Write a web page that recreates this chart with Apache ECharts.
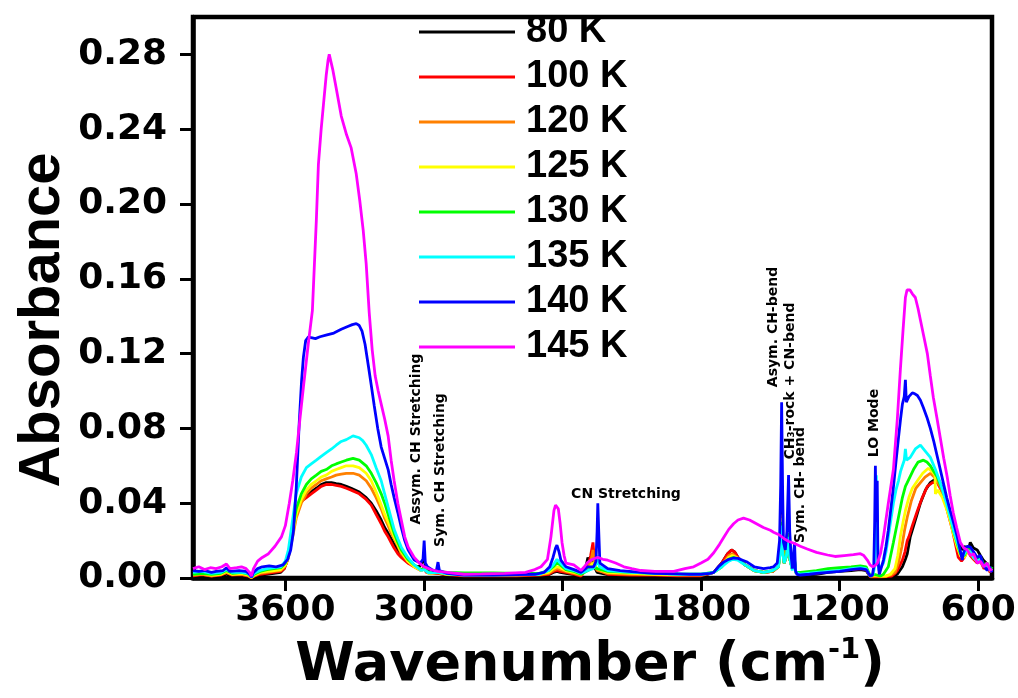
<!DOCTYPE html>
<html>
<head>
<meta charset="utf-8">
<script src="https://cdn.jsdelivr.net/npm/echarts@6/dist/echarts.min.js"></script>
<style>html,body{margin:0;padding:0;background:#fff}#c{width:1018px;height:698px}</style>
</head>
<body>
<div id="c"></div>
<script>
const temps = ['80 K','100 K','120 K','125 K','130 K','135 K','140 K','145 K'];
const colors = ['#000000','#ff0000','#ff8000','#ffff00','#00ff00','#00ffff','#0000ff','#ff00ff'];
const xTicks = [600,1200,1800,2400,3000,3600];
const yTicks = [0,0.04,0.08,0.12,0.16,0.20,0.24,0.28];

const k80 = [[4000,0.0008],[3960,0.0012],[3920,0.0006],[3880,0.001],[3855,0.002],[3830,0.001],[3790,0.0012],[3760,0.0006],[3747,0.0001],[3735,0.0008],[3710,0.0015],[3680,0.002],[3650,0.0025],[3620,0.003],[3605,0.005],[3590,0.010],[3577,0.018],[3565,0.028],[3553,0.035],[3540,0.0395],[3531,0.041],[3509,0.044],[3488,0.046],[3466,0.048],[3445,0.050],[3423,0.051],[3400,0.051],[3380,0.0505],[3358,0.050],[3336,0.049],[3315,0.048],[3280,0.046],[3250,0.043],[3228,0.040],[3207,0.036],[3185,0.031],[3170,0.027],[3155,0.024],[3142,0.021],[3129,0.018],[3113,0.015],[3098,0.012],[3070,0.009],[3042,0.0065],[3020,0.006],[3005,0.009],[2999,0.011],[2993,0.005],[2970,0.003],[2939,0.0025],[2900,0.0015],[2826,0.001],[2700,0.001],[2600,0.001],[2500,0.0012],[2460,0.0018],[2440,0.003],[2424,0.0035],[2410,0.003],[2385,0.0025],[2350,0.0018],[2320,0.001],[2300,0.005],[2290,0.011],[2282,0.008],[2268,0.012],[2262,0.006],[2250,0.003],[2204,0.0018],[2100,0.0012],[2000,0.0012],[1900,0.001],[1800,0.001],[1745,0.003],[1710,0.008],[1685,0.013],[1668,0.015],[1655,0.014],[1640,0.011],[1610,0.007],[1570,0.004],[1529,0.003],[1490,0.0035],[1465,0.006],[1455,0.020],[1451,0.040],[1447,0.018],[1440,0.008],[1430,0.012],[1421,0.022],[1415,0.010],[1405,0.005],[1395,0.008],[1390,0.003],[1370,0.0015],[1300,0.002],[1250,0.003],[1200,0.0035],[1150,0.004],[1110,0.0045],[1085,0.004],[1067,0.0005],[1050,0.0006],[1023,0.0005],[1000,0.0006],[970,0.001],[950,0.002],[928,0.006],[915,0.010],[907,0.013],[894,0.022],[872,0.031],[850,0.040],[828,0.047],[807,0.051],[790,0.0525],[773,0.053],[755,0.048],[734,0.040],[720,0.033],[708,0.026],[690,0.020],[669,0.015],[655,0.017],[645,0.014],[634,0.019],[620,0.016],[604,0.015],[590,0.012],[578,0.0096],[565,0.008],[548,0.004],[540,0.006]];

const k100 = [[4000,0.0012],[3960,0.0018],[3920,0.001],[3880,0.0015],[3855,0.0028],[3830,0.0015],[3790,0.0018],[3760,0.001],[3747,0.0002],[3735,0.001],[3710,0.002],[3680,0.0025],[3650,0.003],[3620,0.0035],[3605,0.005],[3590,0.010],[3577,0.018],[3565,0.028],[3553,0.035],[3540,0.039],[3531,0.041],[3509,0.043],[3488,0.045],[3466,0.047],[3445,0.049],[3423,0.050],[3400,0.050],[3380,0.0495],[3358,0.049],[3336,0.048],[3315,0.047],[3280,0.045],[3250,0.042],[3228,0.039],[3207,0.034],[3185,0.029],[3170,0.025],[3155,0.022],[3142,0.019],[3129,0.016],[3113,0.013],[3098,0.011],[3070,0.008],[3042,0.006],[3012,0.004],[2999,0.006],[2990,0.003],[2939,0.0025],[2900,0.0018],[2826,0.0012],[2700,0.0012],[2600,0.0012],[2500,0.0015],[2460,0.002],[2440,0.0035],[2424,0.004],[2410,0.0035],[2385,0.003],[2350,0.002],[2320,0.001],[2290,0.006],[2278,0.012],[2268,0.019],[2262,0.010],[2255,0.005],[2250,0.004],[2204,0.002],[2100,0.0015],[2000,0.0015],[1900,0.0012],[1800,0.0012],[1745,0.003],[1710,0.008],[1685,0.013],[1668,0.015],[1655,0.014],[1640,0.011],[1610,0.007],[1570,0.004],[1529,0.003],[1490,0.0035],[1465,0.006],[1455,0.018],[1451,0.034],[1447,0.017],[1440,0.008],[1430,0.012],[1421,0.022],[1415,0.010],[1405,0.005],[1395,0.008],[1390,0.003],[1370,0.0018],[1300,0.0025],[1250,0.0035],[1200,0.004],[1150,0.0045],[1110,0.005],[1085,0.0045],[1067,0.0006],[1050,0.0008],[1023,0.0006],[1000,0.0008],[975,0.001],[960,0.0025],[950,0.004],[938,0.007],[928,0.0096],[917,0.014],[907,0.020],[900,0.022],[885,0.028],[863,0.036],[842,0.043],[820,0.049],[798,0.051],[777,0.051],[760,0.047],[742,0.040],[727,0.033],[712,0.026],[698,0.018],[686,0.011],[672,0.009],[660,0.011],[645,0.015],[634,0.012],[620,0.010],[604,0.008],[590,0.009],[575,0.005],[561,0.006],[548,0.003],[540,0.005]];

const k120 = [[4000,0.0015],[3960,0.002],[3920,0.0012],[3880,0.0018],[3855,0.003],[3830,0.0018],[3790,0.002],[3760,0.0012],[3747,0.0002],[3735,0.0012],[3710,0.0025],[3680,0.003],[3650,0.0035],[3620,0.004],[3600,0.0065],[3587,0.011],[3570,0.021],[3553,0.032],[3531,0.040],[3509,0.045],[3488,0.048],[3466,0.050],[3445,0.052],[3423,0.053],[3400,0.054],[3380,0.055],[3358,0.0555],[3336,0.056],[3307,0.056],[3280,0.055],[3250,0.052],[3228,0.048],[3207,0.043],[3185,0.037],[3170,0.032],[3155,0.028],[3142,0.024],[3129,0.021],[3113,0.017],[3098,0.013],[3070,0.009],[3042,0.006],[3012,0.004],[2999,0.005],[2980,0.0025],[2939,0.0028],[2900,0.002],[2826,0.0015],[2700,0.0015],[2600,0.0015],[2500,0.0018],[2460,0.0025],[2440,0.004],[2424,0.005],[2410,0.0045],[2385,0.0035],[2350,0.0025],[2320,0.0015],[2290,0.005],[2275,0.010],[2268,0.015],[2262,0.008],[2250,0.004],[2204,0.0025],[2100,0.002],[2000,0.0018],[1900,0.0015],[1800,0.0015],[1745,0.003],[1710,0.007],[1680,0.012],[1665,0.013],[1640,0.0105],[1610,0.007],[1570,0.004],[1529,0.003],[1490,0.0035],[1465,0.006],[1455,0.018],[1451,0.034],[1447,0.017],[1440,0.008],[1430,0.012],[1421,0.024],[1415,0.010],[1405,0.005],[1395,0.009],[1390,0.003],[1370,0.002],[1300,0.003],[1250,0.004],[1200,0.0045],[1150,0.005],[1110,0.0055],[1085,0.005],[1067,0.0008],[1050,0.001],[1023,0.0008],[1000,0.001],[980,0.0015],[960,0.003],[945,0.008],[930,0.017],[918,0.026],[907,0.0325],[890,0.041],[870,0.048],[850,0.051],[830,0.054],[807,0.056],[790,0.054],[764,0.049],[742,0.041],[721,0.033],[705,0.025],[690,0.018],[677,0.012],[660,0.011],[645,0.015],[634,0.013],[620,0.011],[604,0.009],[590,0.010],[575,0.006],[561,0.007],[548,0.004],[540,0.005]];

const k125 = [[4000,0.002],[3960,0.0025],[3920,0.0015],[3880,0.002],[3855,0.0035],[3830,0.002],[3790,0.0025],[3760,0.0015],[3747,0.0003],[3735,0.0015],[3710,0.003],[3680,0.0035],[3650,0.004],[3620,0.0045],[3600,0.007],[3587,0.011],[3570,0.022],[3553,0.034],[3531,0.042],[3509,0.047],[3488,0.050],[3466,0.052],[3445,0.054],[3423,0.055],[3400,0.057],[3380,0.058],[3358,0.059],[3336,0.060],[3307,0.060],[3280,0.059],[3250,0.056],[3228,0.052],[3207,0.046],[3185,0.039],[3170,0.034],[3155,0.030],[3142,0.026],[3129,0.022],[3113,0.018],[3098,0.014],[3070,0.009],[3042,0.006],[3012,0.004],[2999,0.005],[2980,0.0025],[2939,0.003],[2900,0.002],[2826,0.0018],[2700,0.0018],[2600,0.0018],[2500,0.002],[2460,0.003],[2440,0.005],[2424,0.006],[2410,0.0055],[2385,0.004],[2350,0.003],[2320,0.002],[2290,0.0045],[2268,0.008],[2250,0.005],[2204,0.003],[2100,0.0025],[2000,0.002],[1900,0.0018],[1800,0.0018],[1745,0.003],[1710,0.006],[1680,0.011],[1665,0.012],[1640,0.0105],[1610,0.007],[1570,0.004],[1529,0.003],[1490,0.004],[1465,0.006],[1455,0.017],[1451,0.032],[1447,0.016],[1440,0.008],[1430,0.012],[1421,0.024],[1415,0.010],[1405,0.005],[1395,0.009],[1390,0.003],[1370,0.0025],[1300,0.0035],[1250,0.0045],[1200,0.005],[1150,0.0055],[1110,0.006],[1085,0.0055],[1067,0.001],[1050,0.0015],[1023,0.001],[1000,0.001],[980,0.002],[960,0.005],[948,0.012],[937,0.022],[925,0.030],[915,0.036],[900,0.043],[885,0.048],[863,0.052],[840,0.056],[816,0.0587],[800,0.057],[794,0.056],[787,0.055],[785,0.045],[775,0.047],[755,0.043],[734,0.036],[720,0.030],[708,0.024],[692,0.017],[677,0.012],[660,0.011],[645,0.015],[634,0.013],[620,0.011],[604,0.009],[590,0.010],[575,0.006],[561,0.007],[548,0.004],[540,0.005]];

const k130 = [[4000,0.002],[3960,0.0025],[3920,0.002],[3880,0.0025],[3855,0.004],[3830,0.0025],[3790,0.003],[3760,0.002],[3747,0.0005],[3735,0.002],[3710,0.0035],[3680,0.0045],[3650,0.005],[3620,0.0055],[3600,0.008],[3587,0.013],[3570,0.025],[3553,0.037],[3531,0.045],[3509,0.050],[3488,0.053],[3466,0.055],[3445,0.057],[3423,0.058],[3400,0.060],[3380,0.061],[3358,0.062],[3336,0.063],[3307,0.064],[3280,0.063],[3250,0.060],[3228,0.056],[3207,0.051],[3185,0.045],[3170,0.040],[3155,0.034],[3142,0.029],[3129,0.024],[3113,0.019],[3098,0.015],[3070,0.010],[3042,0.007],[3012,0.0045],[2999,0.005],[2980,0.003],[2939,0.0035],[2900,0.003],[2826,0.0027],[2700,0.0027],[2600,0.0025],[2500,0.0025],[2460,0.004],[2440,0.006],[2424,0.008],[2410,0.007],[2385,0.0045],[2350,0.0035],[2320,0.002],[2290,0.004],[2268,0.006],[2250,0.005],[2204,0.0035],[2100,0.003],[2000,0.0025],[1900,0.0022],[1800,0.002],[1745,0.003],[1710,0.006],[1680,0.010],[1662,0.011],[1640,0.010],[1610,0.007],[1570,0.004],[1529,0.003],[1490,0.004],[1465,0.006],[1455,0.016],[1451,0.030],[1447,0.015],[1440,0.008],[1430,0.012],[1421,0.024],[1415,0.010],[1405,0.005],[1395,0.010],[1390,0.003],[1370,0.003],[1300,0.004],[1250,0.005],[1200,0.0055],[1150,0.006],[1110,0.0065],[1085,0.006],[1067,0.001],[1050,0.002],[1023,0.001],[1010,0.002],[989,0.006],[967,0.019],[945,0.0325],[928,0.043],[915,0.049],[907,0.051],[900,0.052],[880,0.058],[860,0.062],[837,0.063],[822,0.062],[807,0.060],[792,0.057],[777,0.054],[755,0.047],[734,0.040],[720,0.033],[708,0.026],[692,0.019],[677,0.013],[660,0.012],[645,0.016],[634,0.014],[620,0.012],[604,0.010],[590,0.011],[575,0.007],[561,0.008],[548,0.004],[540,0.006]];

const k135 = [[4000,0.003],[3960,0.0035],[3920,0.0025],[3880,0.003],[3855,0.0045],[3830,0.003],[3790,0.003],[3760,0.0025],[3747,0.0005],[3735,0.0025],[3710,0.004],[3680,0.005],[3650,0.0055],[3620,0.006],[3600,0.009],[3587,0.015],[3570,0.030],[3553,0.045],[3531,0.054],[3509,0.059],[3488,0.061],[3466,0.063],[3445,0.065],[3423,0.067],[3400,0.069],[3380,0.071],[3358,0.073],[3336,0.074],[3307,0.076],[3280,0.075],[3265,0.0735],[3250,0.071],[3228,0.066],[3207,0.059],[3185,0.052],[3170,0.045],[3155,0.038],[3142,0.032],[3129,0.026],[3113,0.021],[3098,0.0165],[3070,0.011],[3042,0.007],[3012,0.004],[2999,0.0045],[2980,0.0027],[2939,0.003],[2900,0.0022],[2826,0.0015],[2700,0.0015],[2600,0.0017],[2500,0.002],[2460,0.004],[2440,0.007],[2424,0.010],[2410,0.008],[2385,0.005],[2350,0.004],[2320,0.0025],[2290,0.004],[2268,0.005],[2250,0.008],[2247,0.012],[2240,0.006],[2204,0.004],[2100,0.003],[2000,0.0025],[1900,0.002],[1800,0.002],[1745,0.003],[1710,0.006],[1680,0.009],[1662,0.010],[1640,0.0095],[1610,0.007],[1570,0.004],[1529,0.003],[1490,0.004],[1465,0.006],[1455,0.015],[1451,0.028],[1447,0.014],[1440,0.008],[1430,0.012],[1421,0.022],[1415,0.010],[1405,0.004],[1395,0.010],[1390,0.003],[1370,0.002],[1300,0.003],[1250,0.0035],[1200,0.004],[1150,0.005],[1110,0.0055],[1085,0.005],[1067,0.001],[1055,0.002],[1048,0.006],[1041,0.055],[1036,0.020],[1030,0.004],[1023,0.003],[1010,0.008],[999,0.014],[989,0.022],[978,0.031],[967,0.040],[956,0.047],[945,0.052],[936,0.057],[928,0.060],[920,0.063],[915,0.069],[910,0.063],[894,0.0645],[872,0.069],[850,0.071],[830,0.068],[807,0.0645],[785,0.058],[764,0.051],[742,0.042],[721,0.0325],[705,0.025],[690,0.019],[677,0.014],[664,0.012],[650,0.015],[634,0.014],[620,0.011],[604,0.009],[590,0.010],[575,0.006],[561,0.007],[548,0.004],[540,0.005]];

const k140 = [[4000,0.004],[3975,0.0035],[3950,0.004],[3920,0.003],[3900,0.0035],[3870,0.004],[3855,0.0055],[3840,0.0035],[3800,0.004],[3770,0.0035],[3755,0.002],[3747,0.0005],[3738,0.003],[3720,0.005],[3700,0.006],[3670,0.0065],[3640,0.006],[3610,0.007],[3590,0.010],[3577,0.015],[3565,0.025],[3553,0.048],[3540,0.083],[3530,0.105],[3522,0.118],[3512,0.127],[3500,0.129],[3488,0.1285],[3470,0.128],[3450,0.129],[3420,0.130],[3390,0.131],[3358,0.133],[3330,0.1345],[3310,0.1355],[3293,0.136],[3280,0.135],[3268,0.132],[3255,0.125],[3240,0.113],[3228,0.103],[3215,0.092],[3200,0.080],[3185,0.070],[3170,0.064],[3155,0.058],[3142,0.050],[3129,0.043],[3113,0.035],[3098,0.027],[3083,0.020],[3068,0.015],[3042,0.0096],[3015,0.008],[3004,0.010],[2999,0.020],[2994,0.008],[2985,0.006],[2960,0.004],[2946,0.004],[2939,0.0085],[2933,0.004],[2900,0.0025],[2826,0.0016],[2700,0.0015],[2600,0.0018],[2520,0.002],[2480,0.003],[2455,0.006],[2441,0.011],[2430,0.016],[2424,0.0176],[2415,0.014],[2407,0.0096],[2385,0.006],[2350,0.0045],[2320,0.003],[2300,0.005],[2290,0.006],[2265,0.006],[2255,0.009],[2250,0.025],[2247,0.040],[2243,0.025],[2238,0.008],[2204,0.005],[2150,0.004],[2061,0.003],[2000,0.0025],[1900,0.0022],[1850,0.002],[1800,0.002],[1760,0.0025],[1745,0.003],[1725,0.006],[1702,0.0085],[1680,0.010],[1659,0.0107],[1640,0.0105],[1620,0.0095],[1600,0.0085],[1570,0.006],[1529,0.005],[1500,0.0055],[1486,0.006],[1470,0.008],[1460,0.020],[1455,0.050],[1451,0.094],[1447,0.050],[1443,0.019],[1435,0.015],[1428,0.025],[1421,0.055],[1416,0.025],[1410,0.012],[1404,0.005],[1399,0.004],[1395,0.019],[1391,0.004],[1385,0.002],[1370,0.0016],[1330,0.002],[1300,0.0025],[1250,0.003],[1200,0.0035],[1150,0.0045],[1110,0.005],[1085,0.0045],[1067,0.001],[1058,0.0015],[1052,0.006],[1048,0.030],[1045,0.060],[1042,0.030],[1039,0.040],[1037,0.052],[1034,0.010],[1028,0.002],[1023,0.0027],[1010,0.0096],[999,0.017],[989,0.0256],[978,0.037],[967,0.0485],[956,0.062],[945,0.075],[936,0.085],[928,0.093],[920,0.097],[915,0.106],[911,0.094],[900,0.097],[885,0.099],[874,0.0985],[863,0.0976],[850,0.095],[837,0.091],[822,0.086],[807,0.080],[792,0.073],[777,0.065],[764,0.058],[751,0.051],[736,0.043],[721,0.036],[705,0.029],[690,0.022],[680,0.016],[669,0.0096],[664,0.013],[655,0.016],[645,0.017],[634,0.0165],[620,0.014],[604,0.011],[590,0.012],[578,0.007],[561,0.004],[550,0.006],[540,0.003]];

const k145 = [[4000,0.005],[3975,0.006],[3950,0.0045],[3925,0.0055],[3900,0.005],[3875,0.006],[3855,0.0075],[3840,0.005],[3810,0.0055],[3790,0.006],[3770,0.005],[3755,0.003],[3747,0.001],[3738,0.005],[3720,0.009],[3700,0.011],[3673,0.013],[3645,0.017],[3617,0.022],[3600,0.028],[3583,0.040],[3568,0.052],[3552,0.067],[3537,0.085],[3522,0.102],[3501,0.125],[3483,0.143],[3466,0.191],[3457,0.221],[3445,0.240],[3436,0.252],[3423,0.269],[3415,0.277],[3410,0.280],[3404,0.279],[3395,0.272],[3380,0.262],[3358,0.247],[3335,0.237],[3315,0.230],[3293,0.216],[3278,0.202],[3263,0.186],[3250,0.168],[3237,0.142],[3224,0.122],[3211,0.108],[3198,0.100],[3185,0.093],[3170,0.085],[3155,0.076],[3142,0.063],[3129,0.052],[3113,0.040],[3098,0.031],[3083,0.022],[3068,0.0165],[3042,0.011],[3020,0.008],[2999,0.006],[2970,0.0045],[2939,0.0035],[2900,0.003],[2826,0.002],[2750,0.0022],[2650,0.0025],[2560,0.003],[2520,0.0045],[2493,0.006],[2465,0.010],[2450,0.022],[2437,0.036],[2430,0.039],[2424,0.040],[2418,0.037],[2410,0.029],[2402,0.019],[2393,0.012],[2385,0.008],[2351,0.007],[2330,0.005],[2320,0.004],[2305,0.006],[2290,0.0085],[2270,0.010],[2247,0.011],[2225,0.010],[2204,0.0095],[2170,0.008],[2134,0.006],[2100,0.005],[2061,0.004],[2000,0.0035],[1918,0.0035],[1870,0.005],[1832,0.006],[1800,0.008],[1770,0.010],[1745,0.0135],[1720,0.018],[1700,0.022],[1680,0.026],[1659,0.029],[1640,0.031],[1616,0.032],[1590,0.031],[1560,0.029],[1530,0.027],[1500,0.0255],[1486,0.0245],[1460,0.023],[1440,0.021],[1420,0.0195],[1400,0.0187],[1370,0.017],[1340,0.0155],[1300,0.0137],[1252,0.0123],[1220,0.0115],[1180,0.012],[1140,0.0125],[1110,0.013],[1095,0.012],[1080,0.0096],[1068,0.007],[1058,0.006],[1047,0.0065],[1036,0.008],[1023,0.013],[1010,0.022],[989,0.040],[967,0.058],[950,0.085],[937,0.111],[925,0.133],[915,0.150],[908,0.154],[902,0.155],[895,0.154],[885,0.152],[872,0.150],[860,0.144],[850,0.138],[835,0.129],[820,0.120],[807,0.108],[794,0.0965],[779,0.086],[764,0.075],[749,0.064],[734,0.054],[721,0.044],[708,0.035],[693,0.027],[677,0.019],[662,0.016],[647,0.015],[632,0.012],[620,0.013],[604,0.008],[590,0.009],[575,0.006],[561,0.008],[548,0.004],[540,0.005]];

const spectra = [k80, k100, k120, k125, k130, k135, k140, k145];

const annotations = [
  {text: 'Assym. CH Stretching', x: 416, y: 439, rot: true},
  {text: 'Sym. CH Stretching', x: 440, y: 470, rot: true},
  {text: 'CN Stretching', x: 626, y: 494, rot: false},
  {text: 'Asym. CH-bend', x: 773, y: 327, rot: true},
  {text: 'CH\u2083-rock + CN-bend', x: 790, y: 381, rot: true},
  {text: 'Sym. CH- bend', x: 800, y: 485, rot: true},
  {text: 'LO Mode', x: 874, y: 423, rot: true}
];

const chart = echarts.init(document.getElementById('c'), null, {renderer: 'canvas'});
const bold = {fontFamily: 'DejaVu Sans', fontWeight: 'bold', color: '#000'};

const graphics = annotations.map(a => ({
  type: 'text', x: a.x, y: a.y, rotation: a.rot ? Math.PI / 2 : 0, z: 100,
  style: {text: a.text, fill: '#000', fontFamily: 'DejaVu Sans', fontWeight: 'bold', fontSize: 14, align: 'center', verticalAlign: 'middle'}
}));
graphics.push({
  type: 'text', x: 43, y: 320, rotation: Math.PI / 2, z: 100,
  style: {text: 'Absorbance', fill: '#000', fontFamily: 'Liberation Sans', fontWeight: 'bold', fontSize: 58, align: 'center', verticalAlign: 'middle'}
});
graphics.push({
  type: 'text', x: 590, y: 666, z: 100,
  style: {
    text: '{a|Wavenumber (cm}{b|-1}{a|)}', fill: '#000', align: 'center', verticalAlign: 'middle',
    rich: {
      a: {fontFamily: 'DejaVu Sans', fontWeight: 'bold', fontSize: 54, lineHeight: 60, fill: '#000'},
      b: {fontFamily: 'DejaVu Sans', fontWeight: 'bold', fontSize: 29, lineHeight: 20, verticalAlign: 'top', fill: '#000'}
    }
  }
});

chart.setOption({
  animation: false,
  backgroundColor: '#fff',
  grid: {left: 193, right: 26, top: 17, bottom: 120, show: true, borderColor: '#000', borderWidth: 4.5, containLabel: false, outerBoundsMode: 'none'},
  legend: {
    orient: 'vertical', left: 419, top: 13, padding: 0, itemWidth: 96, itemHeight: 3, itemGap: 7,
    icon: 'rect',
    data: temps,
    textStyle: {fontFamily: 'Liberation Sans', fontWeight: 'bold', fontSize: 38, color: '#000', padding: [0, 0, 0, 6]}
  },
  xAxis: {
    type: 'value', inverse: true, min: 540, max: 4000,
    axisLine: {lineStyle: {color: '#000', width: 4.5}},
    axisTick: {customValues: xTicks, length: 13, lineStyle: {color: '#000', width: 3}},
    axisLabel: Object.assign({customValues: xTicks, fontSize: 36, margin: 15, formatter: v => String(v), hideOverlap: false}, bold),
    splitLine: {show: false}
  },
  yAxis: {
    type: 'value', min: 0, max: 0.3,
    axisLine: {show: true, lineStyle: {color: '#000', width: 4.5}},
    axisTick: {show: true, customValues: yTicks, length: 13, lineStyle: {color: '#000', width: 3}},
    axisLabel: Object.assign({customValues: yTicks, fontSize: 36, margin: 26, formatter: v => v.toFixed(2)}, bold),
    splitLine: {show: false}
  },
  graphic: graphics,
  series: spectra.map((d, i) => ({
    name: temps[i], type: 'line', data: d, symbol: 'none', showSymbol: false,
    lineStyle: {color: colors[i], width: 2.8}, itemStyle: {color: colors[i]},
    emphasis: {disabled: true}
  }))
});
</script>
</body>
</html>
